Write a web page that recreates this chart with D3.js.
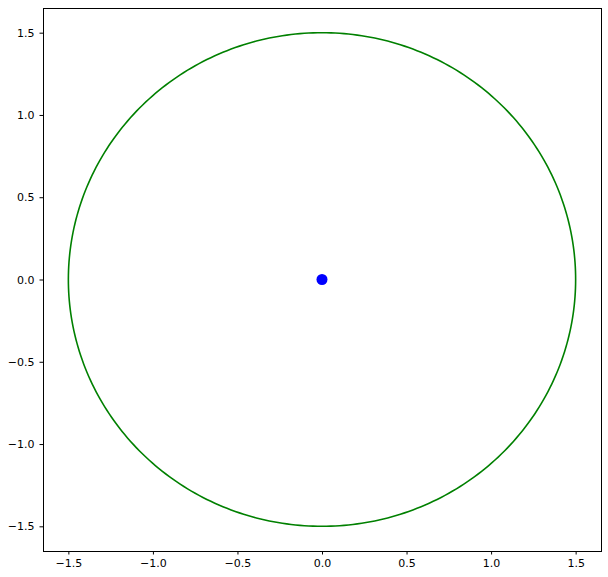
<!DOCTYPE html>
<html>
<head>
<meta charset="utf-8">
<script src="https://cdn.jsdelivr.net/npm/d3@7"></script>
<style>
  body { margin: 0; background: #fff; }
  text { font-family: "DejaVu Sans", sans-serif; }
</style>
</head>
<body>
<svg id="chart" width="608" height="577"></svg>
<script>
// orbit circle: radius and sample angles (degrees)
let radius = 1.5;
let angles = d3.range(0, 361, 1);
// point at the centre
let centerX = [0];
let centerY = [0];
// tick labels
let tickValues = [-1.5, -1.0, -0.5, 0.0, 0.5, 1.0, 1.5];

let svg = d3.select("#chart");

let mLeft = 43, mTop = 8, mRight = 601, mBottom = 551;

let xScale = d3.scaleLinear().domain([-1.65, 1.65]).range([mLeft, mRight]);
let yScale = d3.scaleLinear().domain([-1.65, 1.65]).range([mBottom, mTop]);

let fmt = v => d3.format(".1f")(v).replace("-", "\u2212");

let pts = angles.map(a => [radius * Math.cos(a * Math.PI / 180), radius * Math.sin(a * Math.PI / 180)]);

let line = d3.line()
    .x(d => xScale(d[0]))
    .y(d => yScale(d[1]));

svg.append("path")
    .datum(pts)
    .attr("d", line)
    .attr("fill", "none")
    .attr("stroke", "#008000")
    .attr("stroke-width", 1.6);

svg.selectAll(".dot")
    .data(centerX)
    .enter()
    .append("circle")
    .attr("cx", d => xScale(d))
    .attr("cy", (d, i) => yScale(centerY[i]))
    .attr("r", 5.5)
    .attr("fill", "#0000ff");

let xAxis = d3.axisBottom(xScale).tickValues(tickValues).tickFormat(fmt).tickSizeOuter(0).tickSize(3.5).tickPadding(5);
let yAxis = d3.axisLeft(yScale).tickValues(tickValues).tickFormat(fmt).tickSizeOuter(0).tickSize(3.5).tickPadding(5);

let gx = svg.append("g").attr("transform", `translate(0, ${mBottom})`).call(xAxis);
let gy = svg.append("g").attr("transform", `translate(${mLeft}, 0)`).call(yAxis);

[gx, gy].forEach(g => {
    g.select(".domain").remove();
    g.selectAll("text").attr("font-size", 11).attr("fill", "#000").attr("font-family", "DejaVu Sans");
    g.selectAll("line").attr("stroke", "#000");
});

// frame
svg.append("rect")
    .attr("x", mLeft + 0.5).attr("y", mTop + 0.5)
    .attr("width", mRight - mLeft).attr("height", mBottom - mTop)
    .attr("fill", "none")
    .attr("stroke", "#000")
    .attr("stroke-width", 1);
</script>
</body>
</html>
